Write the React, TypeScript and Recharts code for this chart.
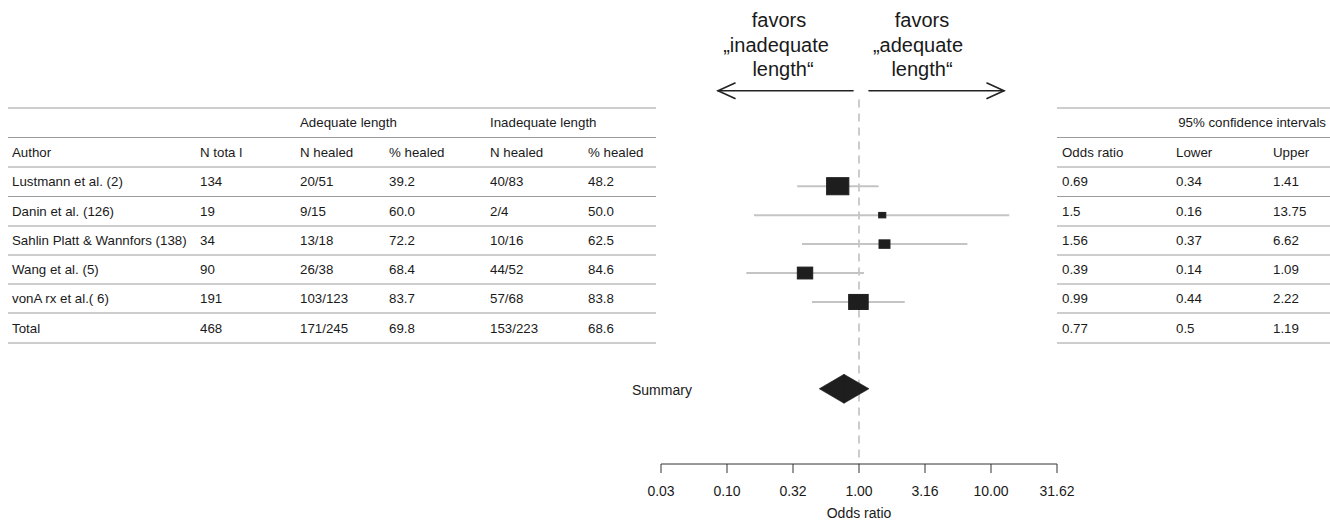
import React from 'react';
import { ComposedChart, Scatter, XAxis, YAxis, ReferenceLine, ReferenceArea } from 'recharts';

// ---------- data ----------
const authors = ['Lustmann et al. (2)', 'Danin et al. (126)', 'Sahlin Platt & Wannfors (138)', 'Wang et al. (5)', 'vonA rx et al.( 6)'];
const nTotal = ['134', '19', '34', '90', '191'];
const adequateHealed = ['20/51', '9/15', '13/18', '26/38', '103/123'];
const adequatePct = ['39.2', '60.0', '72.2', '68.4', '83.7'];
const inadequateHealed = ['40/83', '2/4', '10/16', '44/52', '57/68'];
const inadequatePct = ['48.2', '50.0', '62.5', '84.6', '83.8'];
const oddsRatio = [0.69, 1.5, 1.56, 0.39, 0.99];
const ciLower = [0.34, 0.16, 0.37, 0.14, 0.44];
const ciUpper = [1.41, 13.75, 6.62, 1.09, 2.22];
const totalRow = ['Total', '468', '171/245', '69.8', '153/223', '68.6'];
const summaryOR = 0.77;
const summaryLower = 0.5;
const summaryUpper = 1.19;
const tickExponents = [-1.5, -1, -0.5, 0, 0.5, 1, 1.5];
const leftHeader = ['Author', 'N tota l', 'N healed', '% healed', 'N healed', '% healed'];
const rightHeader = ['Odds ratio', 'Lower', 'Upper'];

// ---------- derived ----------
const FONT = '"Liberation Sans", Arial, Helvetica, sans-serif';
const INK = '#1a1a1a';
const tickValues = tickExponents.map((e) => Math.pow(10, e));
const xMin = tickValues[0];
const xMax = tickValues[tickValues.length - 1];
const studies = oddsRatio.map((or, i) => {
  const se = (Math.log(ciUpper[i]) - Math.log(ciLower[i])) / (2 * 1.96);
  return { or, row: i + 1, h: 6.2 / se };
});
const summaryRow = 8;

const Box = (props: any) => {
  const { cx, cy, payload } = props;
  if (cx == null || cy == null) return <g />;
  const h = payload.h;
  const w = h * 1.3;
  return <rect x={cx - w / 2} y={cy - h / 2} width={w} height={h} fill="#1e1e1e" stroke="#1e1e1e" strokeWidth={1} />;
};

const LeftHalf = (p: any) => {
  const { x, y, width, height } = p;
  return <polygon points={`${x},${y + height / 2} ${x + width},${y} ${x + width},${y + height}`} fill="#1e1e1e" stroke="#1e1e1e" strokeWidth={0.6} />;
};
const RightHalf = (p: any) => {
  const { x, y, width, height } = p;
  return <polygon points={`${x},${y} ${x + width},${y + height / 2} ${x},${y + height}`} fill="#1e1e1e" stroke="#1e1e1e" strokeWidth={0.6} />;
};

const leftCols = [12, 200, 300, 389, 490, 588];
const rightCols = [1062, 1176, 1273];
const hLines = [108, 137.5, 167, 196.5, 226, 255, 284, 313, 343];

function Overlay() {
  const rowsData = authors.map((a, i) => [a, nTotal[i], adequateHealed[i], adequatePct[i], inadequateHealed[i], inadequatePct[i]]);
  rowsData.push(totalRow);
  const rightRows = oddsRatio.map((o, i) => [String(o), String(ciLower[i]), String(ciUpper[i])]);
  rightRows.push([String(summaryOR), String(summaryLower), String(summaryUpper)]);
  const mid = (k: number) => (hLines[k] + hLines[k + 1]) / 2 + 4.6;
  const ts = { fontFamily: FONT, fontSize: 13.3, fill: INK } as any;
  const big = { fontFamily: FONT, fontSize: 20, fill: INK, textAnchor: 'middle' } as any;
  return (
    <svg width={1330} height={521} style={{ position: 'absolute', left: 0, top: 0, pointerEvents: 'none' }}>
      {hLines.map((y, i) => (
        <g key={i}>
          <line x1={8} x2={656} y1={y} y2={y} stroke="#9c9c9c" strokeWidth={1} />
          <line x1={1057} x2={1330} y1={y} y2={y} stroke="#9c9c9c" strokeWidth={1} />
        </g>
      ))}
      <text x={leftCols[2]} y={mid(0)} {...ts}>Adequate length</text>
      <text x={leftCols[4]} y={mid(0)} {...ts}>Inadequate length</text>
      <text x={1326} y={mid(0)} {...ts} textAnchor="end">95% confidence intervals</text>
      {leftHeader.map((t, j) => (
        <text key={j} x={leftCols[j]} y={mid(1)} {...ts}>{t}</text>
      ))}
      {rightHeader.map((t, j) => (
        <text key={j} x={rightCols[j]} y={mid(1)} {...ts}>{t}</text>
      ))}
      {rowsData.map((r, i) =>
        r.map((t, j) => (
          <text key={`${i}-${j}`} x={leftCols[j]} y={mid(i + 2)} {...ts}>{t}</text>
        ))
      )}
      {rightRows.map((r, i) =>
        r.map((t, j) => (
          <text key={`r${i}-${j}`} x={rightCols[j]} y={mid(i + 2)} {...ts}>{t}</text>
        ))
      )}
      {/* direction annotation */}
      <text x={779} y={27} {...big}>favors</text>
      <text x={776} y={51.5} {...big}>„inadequate</text>
      <text x={783} y={76} {...big}>length“</text>
      <text x={922} y={27} {...big}>favors</text>
      <text x={918} y={51.5} {...big}>„adequate</text>
      <text x={922} y={76} {...big}>length“</text>
      <g stroke="#222" strokeWidth={1.6} fill="none" strokeLinecap="round">
        <line x1={853} y1={90.7} x2={718} y2={90.7} />
        <polyline points="735,83 718,90.7 735,98.5" />
        <line x1={869} y1={90.7} x2={1004} y2={90.7} />
        <polyline points="987,83 1004,90.7 987,98.5" />
      </g>
      <text x={632} y={395} fontFamily={FONT} fontSize={14} fill={INK}>Summary</text>
    </svg>
  );
}

export default function App() {
  const refLineProps: any = { zIndex: 0 };
  const areaProps: any = { zIndex: 700 };
  return (
    <div style={{ position: 'absolute', left: 0, top: 0, width: 1330, height: 521, background: '#fff' }}>
      <ComposedChart width={1330} height={521} margin={{ top: 56, right: 273, bottom: 0, left: 661 }}>
        <XAxis
          type="number"
          dataKey="or"
          scale="log"
          domain={[xMin, xMax]}
          allowDataOverflow
          ticks={tickValues}
          interval={0}
          tickFormatter={(v: number) => v.toFixed(2)}
          height={57}
          tickSize={9}
          tickMargin={13}
          axisLine={{ stroke: '#333', strokeWidth: 1 }}
          tickLine={{ stroke: '#333', strokeWidth: 1 }}
          tick={{ fill: INK, fontSize: 14, fontFamily: FONT }}
          label={{ value: 'Odds ratio', position: 'insideBottom', offset: 3, fill: INK, fontSize: 14, fontFamily: FONT }}
        />
        <YAxis type="number" dataKey="row" domain={[-3.5, 10.6]} reversed hide allowDataOverflow />
        <ReferenceLine {...refLineProps} segment={[{ x: 1, y: -2 }, { x: 1, y: 10.6 }]} stroke="#cccccc" strokeWidth={2} strokeDasharray="8 6" />
        {studies.map((s, i) => (
          <Scatter
            key={`ci${i}`}
            data={[{ or: ciLower[i], row: s.row }, { or: ciUpper[i], row: s.row }]}
            line={{ stroke: '#c4c4c4', strokeWidth: 2 }}
            shape={() => <g />}
            isAnimationActive={false}
          />
        ))}
        <Scatter data={studies} shape={Box} isAnimationActive={false} />
        <ReferenceArea {...areaProps} x1={summaryLower} x2={summaryOR} y1={summaryRow - 0.5} y2={summaryRow + 0.5} shape={LeftHalf} ifOverflow="visible" />
        <ReferenceArea {...areaProps} x1={summaryOR} x2={summaryUpper} y1={summaryRow - 0.5} y2={summaryRow + 0.5} shape={RightHalf} ifOverflow="visible" />
      </ComposedChart>
      <Overlay />
    </div>
  );
}
